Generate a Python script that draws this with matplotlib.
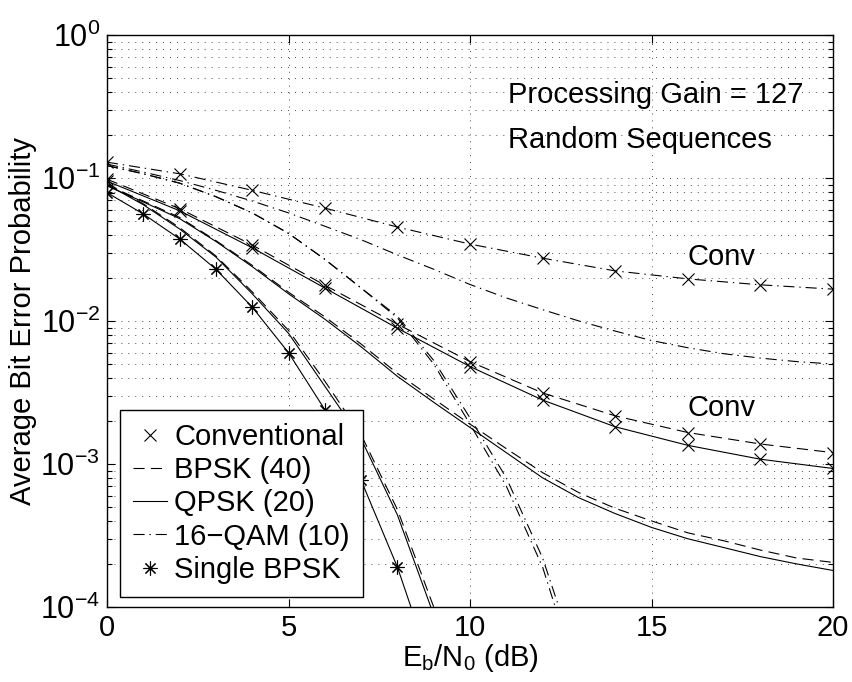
import numpy as np
import matplotlib
matplotlib.use('Agg')
import matplotlib.pyplot as plt
from matplotlib.lines import Line2D
from matplotlib.ticker import LogLocator, NullFormatter

plt.rcParams['font.family'] = ['Liberation Sans', 'DejaVu Sans']
plt.rcParams['mathtext.default'] = 'regular'
plt.rcParams['lines.scale_dashes'] = False

# ---- data ----
snr_even = np.arange(0, 21, 2)
snr = np.arange(0, 21)

# conventional detector, markers at even dB
conv_bpsk = [0.098, 0.061, 0.034, 0.0178, 0.0095, 0.0052, 0.00314, 0.00217, 0.00166, 0.00138, 0.0012]
conv_qpsk = [0.095, 0.059, 0.0325, 0.0170, 0.0089, 0.0048, 0.0028, 0.00182, 0.00135, 0.00108, 0.00093]
conv_qam = [0.129, 0.107, 0.082, 0.0616, 0.0454, 0.0345, 0.0275, 0.0224, 0.0197, 0.0179, 0.0167]

# multiuser detector with error floor
floor_bpsk = [0.089, 0.069, 0.053, 0.0365, 0.0245, 0.0159, 0.0107, 0.0069, 0.0043, 0.00285, 0.0019,
              0.00128, 0.00087, 0.00063, 0.00049, 0.0004, 0.00033, 0.00029, 0.00025, 0.00022, 0.000205]
floor_qpsk = [0.088, 0.068, 0.052, 0.036, 0.024, 0.0155, 0.0103, 0.0066, 0.0041, 0.0027, 0.0018,
              0.0012, 0.0008, 0.00058, 0.00045, 0.00036, 0.0003, 0.00026, 0.000225, 0.0002, 0.00018]
floor_qam = [0.125, 0.11, 0.096, 0.082, 0.069, 0.057, 0.046, 0.037, 0.029, 0.023, 0.018,
             0.0145, 0.012, 0.01, 0.0085, 0.0073, 0.0065, 0.0059, 0.0055, 0.0052, 0.005]

# steep multiuser curves (close to single user)
snr_steep = np.arange(0, 10)
steep_bpsk = [0.092, 0.066, 0.045, 0.0285, 0.016, 0.0086, 0.0038, 0.0016, 0.00048, 0.0001]
steep_qpsk = [0.09, 0.065, 0.044, 0.028, 0.0155, 0.0082, 0.0035, 0.0015, 0.00044, 8.8e-05]
snr_qam = np.arange(0, 14)
steep_qam_a = [0.122, 0.107, 0.092, 0.074, 0.057, 0.041, 0.027, 0.017, 0.0105, 0.005, 0.0019, 0.0007, 0.00019, 3e-05]
steep_qam_b = [0.122, 0.107, 0.092, 0.074, 0.057, 0.041, 0.027, 0.017, 0.0108, 0.0053, 0.0021, 0.0008, 0.00022, 3.8e-05]

# single user BPSK
single_bpsk = [0.079, 0.056, 0.0375, 0.023, 0.0125, 0.006, 0.0024, 0.00077, 0.00019, 3.4e-05]

DASH = (0, (8, 4.5))
DASHDOT = (0, (8, 3.5, 1, 3.5))
STAR = (8, 2, 0)   # matlab style asterisk
lw = 0.8
FS = 21

fig = plt.figure(figsize=(8.52, 6.82), dpi=100)
ax = fig.add_axes([0.1256, 0.110, 0.8521, 0.8387])

# conventional
ax.semilogy(snr_even, conv_bpsk, color='k', lw=lw, ls=DASH, marker='x', ms=9, mew=0.8)
ax.semilogy(snr_even, conv_qpsk, color='k', lw=lw, ls='-', marker='x', ms=9, mew=0.8)
ax.semilogy(snr_even, conv_qam, color='k', lw=lw, ls=DASHDOT, marker='x', ms=9, mew=0.8)

# floor curves
ax.semilogy(snr, floor_bpsk, color='k', lw=lw, ls=DASH)
ax.semilogy(snr, floor_qpsk, color='k', lw=lw, ls='-')
ax.semilogy(snr, floor_qam, color='k', lw=lw, ls=DASHDOT)

# steep curves
ax.semilogy(snr_steep, steep_bpsk, color='k', lw=lw, ls=DASH)
ax.semilogy(snr_steep, steep_qpsk, color='k', lw=lw, ls='-')
ax.semilogy(snr_qam, steep_qam_a, color='k', lw=lw, ls=DASHDOT)
ax.semilogy(snr_qam, steep_qam_b, color='k', lw=lw, ls=DASHDOT)

# single user
ax.semilogy(snr_steep, single_bpsk, color='k', lw=lw, ls='-', marker=STAR, ms=10, mew=0.8)

ax.set_xlim(0, 20)
ax.set_ylim(1e-4, 1)
ax.set_xticks([0, 5, 10, 15, 20])
ax.yaxis.set_major_locator(LogLocator(base=10, numticks=10))
ax.yaxis.set_minor_locator(LogLocator(base=10, subs=np.arange(2, 10), numticks=20))
ax.yaxis.set_minor_formatter(NullFormatter())

ax.grid(True, which='major', color='0.3', lw=0.7, ls=(0, (0.7, 4.3)))
ax.grid(True, which='minor', axis='y', color='0.3', lw=0.7, ls=(0, (0.7, 4.3)))
ax.tick_params(which='both', direction='in', top=True, right=True, labelsize=FS, width=0.8)
ax.tick_params(axis='y', labelsize=22)
ax.tick_params(which='major', length=6, pad=5)
ax.tick_params(which='minor', length=3.5)
for s in ax.spines.values():
    s.set_linewidth(1.0)

ax.set_xlabel('E$_b$/N$_0$ (dB)', fontsize=FS, labelpad=0)
ax.set_ylabel('Average Bit Error Probability', fontsize=FS, labelpad=2)

ax.text(11.05, 0.38, 'Processing Gain = 127', fontsize=FS, va='center')
ax.text(11.05, 0.185, 'Random Sequences', fontsize=FS, va='center')
ax.text(16.0, 0.028, 'Conv', fontsize=FS, va='center')
ax.text(16.0, 0.00245, 'Conv', fontsize=FS, va='center')

handles = [
    Line2D([], [], color='k', ls='none', marker='x', ms=9, mew=0.8),
    Line2D([], [], color='k', lw=lw, ls=DASH),
    Line2D([], [], color='k', lw=lw, ls='-'),
    Line2D([], [], color='k', lw=lw, ls=DASHDOT),
    Line2D([], [], color='k', ls='none', marker=STAR, ms=10, mew=0.8),
]
labels = ['Conventional', 'BPSK (40)', 'QPSK (20)', '16\u2212QAM (10)', 'Single BPSK']
leg = ax.legend(handles, labels, loc='lower left', bbox_to_anchor=(0.018, 0.0175),
                borderaxespad=0, fontsize=FS, fancybox=False, framealpha=1,
                edgecolor='k', handlelength=1.15, handletextpad=0.25,
                labelspacing=0.18, borderpad=0.45)
leg.get_frame().set_linewidth(1.0)

fig.savefig('out.png', dpi=100)
